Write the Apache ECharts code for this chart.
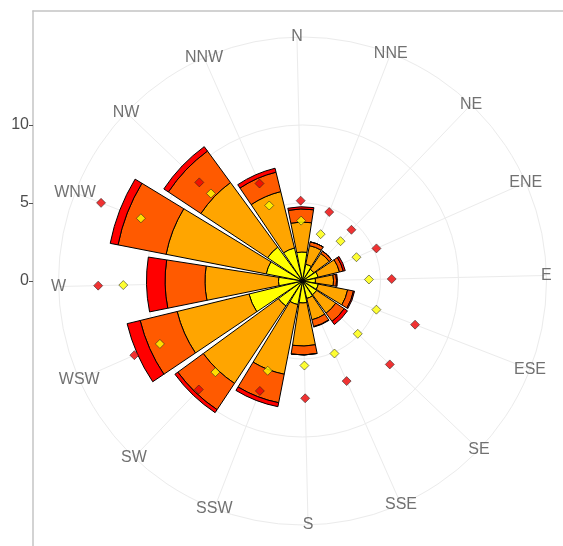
<!DOCTYPE html>
<html><head><meta charset="utf-8">
<script src="https://cdn.jsdelivr.net/npm/echarts@6/dist/echarts.min.js"></script>
<style>html,body{margin:0;padding:0;background:#fff}#c{width:563px;height:546px}</style>
</head><body><div id="c"></div>
<script>
// wind directions (angle categories, clockwise from north)
const directions = ['N','NNE','NE','ENE','E','ESE','SE','SSE','S','SSW','SW','WSW','W','WNW','NW','NNW'];
// stacked segments (radial units), inner to outer
const binYellow = [1.86,1.09,0.90,1.03,0.83,1.03,1.09,1.15,1.41,1.54,1.92,3.53,1.54,2.37,2.69,2.18];
const binOrange = [1.92,1.22,1.22,1.41,1.16,1.92,1.47,1.41,2.76,4.55,5.96,4.74,4.71,6.54,5.13,3.72];
const binDarkOrange = [0.84,0.25,0.19,0.25,0.19,0.38,0.65,0.45,0.57,1.86,2.02,2.44,2.56,3.14,2.50,1.28];
const binRed = [0.14,0,0,0.13,0.06,0.07,0.25,0.03,0,0.26,0.23,0.86,1.19,0.51,0.35,0.26];
// diamond markers (radial units)
const markYellow = [3.87,3.22,3.53,3.78,4.26,5.08,4.90,5.08,5.42,6.17,8.08,9.99,11.49,11.11,8.12,5.29];
const markRed = [5.15,4.74,4.54,5.18,5.72,7.74,7.74,7.01,7.52,7.56,9.62,11.78,13.10,13.85,9.15,6.83];
// radial axis tick labels
const radialTicks = [0,5,10];
const rMax = 15.64;

const FONT = '"Liberation Sans", Arial, Helvetica, sans-serif';
const CX = 302.5, CY = 281, R = 244;
const ROT = 1.3;
const pxPerUnit = R / rMax;

const chart = echarts.init(document.getElementById('c'), null, {renderer: 'canvas'});

function barSeries(data, color) {
  return {
    type: 'bar', coordinateSystem: 'polar', polarIndex: 0, stack: 'ws',
    data: data, barCategoryGap: '10%',
    itemStyle: {color: color, borderColor: '#000', borderWidth: 1},
    silent: true, animation: false
  };
}
function diamondSeries(data, color) {
  return {
    type: 'scatter', coordinateSystem: 'polar', polarIndex: 0,
    data: data.map((v, i) => [v, directions[i]]),
    symbol: 'diamond', symbolSize: 9,
    itemStyle: {color: color, borderColor: '#222', borderWidth: 0.7},
    z: 5, silent: true, animation: false
  };
}

const option = {
  backgroundColor: '#fff',
  animation: false,
  grid: {left: 33, top: 11, right: 0, bottom: 0, containLabel: false},
  xAxis: {
    type: 'value', position: 'top', min: 0, max: 1,
    axisLine: {show: true, onZero: false, lineStyle: {color: '#c4c4c4', width: 1.5}},
    axisTick: {show: false}, axisLabel: {show: false}, splitLine: {show: false}
  },
  yAxis: {
    type: 'value',
    min: -(546 - CY) / pxPerUnit, max: (CY - 11) / pxPerUnit,
    axisLine: {show: true, onZero: false, lineStyle: {color: '#c4c4c4', width: 1.5}},
    axisTick: {show: true, length: 4, customValues: radialTicks, lineStyle: {color: '#555'}},
    axisLabel: {show: true, customValues: radialTicks, color: '#4d4d4d', fontSize: 16, fontFamily: FONT, margin: 4},
    splitLine: {show: false}
  },
  polar: [
    {center: [CX, CY], radius: R},
    {center: [CX, CY], radius: R},
    {center: [CX, CY], radius: R * 10 / rMax}
  ],
  angleAxis: [
    {polarIndex: 0, type: 'category', data: directions, startAngle: 90 + ROT + 11.25, clockwise: true,
     boundaryGap: true, axisLine: {show: false}, axisTick: {show: false}, axisLabel: {show: false}, splitLine: {show: false}},
    {polarIndex: 1, type: 'value', min: 0, max: 360, interval: 22.5, startAngle: 90 + ROT, clockwise: true,
     axisLine: {show: true, lineStyle: {color: '#ebebeb', width: 1}}, axisTick: {show: false}, axisLabel: {show: false},
     splitLine: {show: true, lineStyle: {color: '#ebebeb', width: 1}}},
    {polarIndex: 2, type: 'value', min: 0, max: 360, startAngle: 90,
     axisLine: {show: false}, axisTick: {show: false}, axisLabel: {show: false}, splitLine: {show: false}}
  ],
  radiusAxis: [
    {polarIndex: 0, type: 'value', min: 0, max: rMax, axisLine: {show: false}, axisTick: {show: false}, axisLabel: {show: false}, splitLine: {show: false}},
    {polarIndex: 1, type: 'value', min: 0, max: rMax, axisLine: {show: false}, axisTick: {show: false}, axisLabel: {show: false}, splitLine: {show: false}},
    {polarIndex: 2, type: 'value', min: 0, max: 10, interval: 5, axisLine: {show: false}, axisTick: {show: false}, axisLabel: {show: false},
     splitLine: {show: true, lineStyle: {color: '#ebebeb', width: 1}}}
  ],
  series: [
    barSeries(binYellow, '#ffff00'),
    barSeries(binOrange, '#ffa500'),
    barSeries(binDarkOrange, '#ff5a00'),
    barSeries(binRed, '#ff0000'),
    diamondSeries(markYellow, '#ffff00'),
    diamondSeries(markRed, '#ee0000'),
    {
      type: 'scatter', coordinateSystem: 'polar', polarIndex: 0,
      data: directions.map(d => [rMax, d]),
      symbolSize: 1, itemStyle: {color: 'rgba(0,0,0,0)'},
      label: {show: true, position: 'inside', formatter: p => directions[p.dataIndex],
              color: '#4d4d4d', fontSize: 16, fontFamily: FONT},
      z: 6, silent: true, animation: false
    }
  ]
};
chart.setOption(option);
</script></body></html>
